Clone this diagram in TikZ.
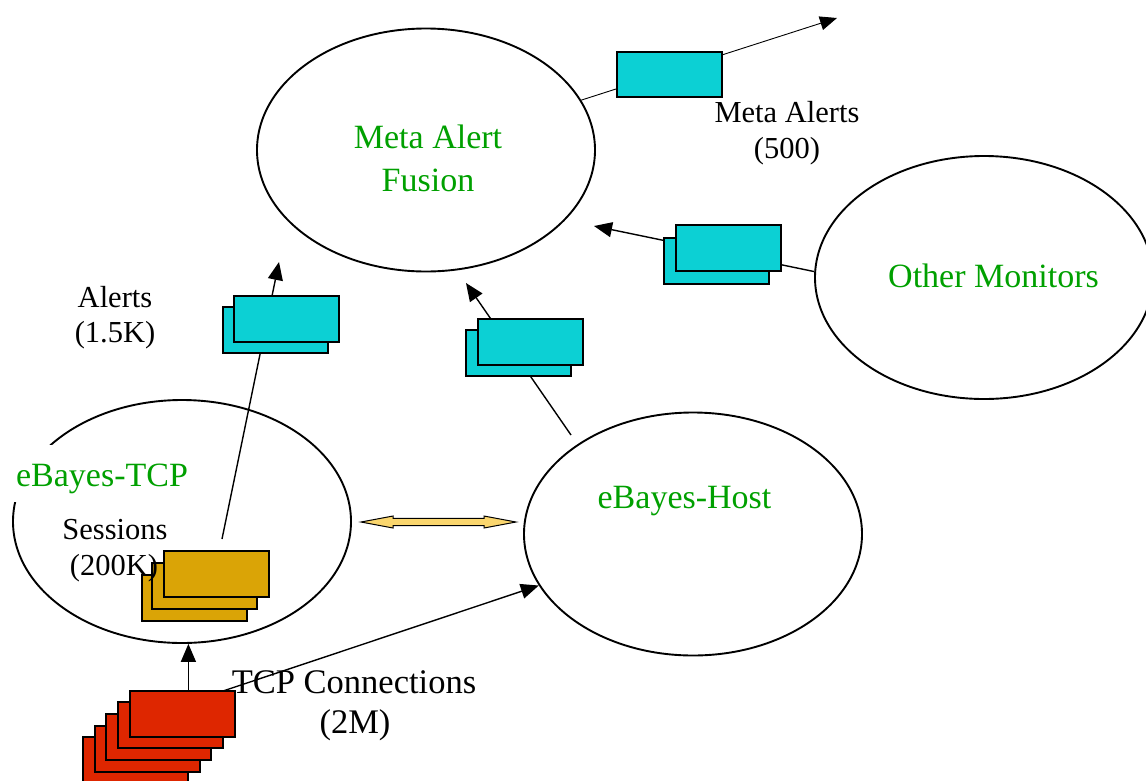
\documentclass[tikz,border=0pt]{standalone}
\usepackage{fontspec}
\setmainfont{Liberation Serif}
\usetikzlibrary{shapes.geometric,arrows.meta,calc}
\definecolor{pktcyan}{RGB}{12,208,212}
\definecolor{pktgold}{RGB}{218,164,6}
\definecolor{pktred}{RGB}{222,38,0}
\definecolor{labgreen}{RGB}{0,160,0}
\definecolor{linkyellow}{RGB}{250,214,110}
\begin{document}
\begin{tikzpicture}[x=1pt,y=-1pt,
  ell/.style={draw, ellipse, line width=1.9pt, minimum width=338pt, minimum height=243pt, inner sep=0pt},
  pkt/.style={draw, line width=2pt, minimum width=105pt, minimum height=46pt, inner sep=0pt},
  cyanpkt/.style={pkt, fill=pktcyan},
  goldpkt/.style={pkt, fill=pktgold},
  redpkt/.style={pkt, fill=pktred},
  conn/.style={line width=1.4pt, -{Triangle[length=18pt,width=15pt]}},
  thinconn/.style={line width=0.9pt, -{Triangle[length=17pt,width=14pt]}},
  linkstyle/.style={draw, line width=1pt, fill=linkyellow, line join=miter},
  glbl/.style={font=\fontsize{34}{41}\selectfont, text=labgreen, anchor=base, inner sep=0pt},
  blbl/.style={font=\fontsize{30.5}{36}\selectfont, anchor=base, inner sep=0pt},
  tlbl/.style={font=\fontsize{34.5}{40}\selectfont, anchor=base, inner sep=0pt}
]
\useasboundingbox (0,0) rectangle (1146,780);

% ellipses
\node[ell] (maf) at (426,150) {};
\node[ell] (om) at (984,277.5) {};
\node[ell] (tcp) at (182,521.5) {};
\node[ell] (host) at (693,534) {};

% free connector ends
\coordinate (maTip) at (837,18);
\coordinate (omTip) at (594,226);
\coordinate (alStart) at (222,539);
\coordinate (alTip) at (279,262);
\coordinate (hoStart) at (571,435);
\coordinate (hoTip) at (466,283);
\coordinate (rcStart) at (223,691);
\coordinate (la) at (361,522);
\coordinate (lb) at (516,522);

% connectors behind the packets
\draw[thinconn] (maf) -- (maTip);
\draw[conn] (om.178) -- (omTip);
\draw[conn] (alStart) -- (alTip);
\draw[conn] (hoStart) -- (hoTip);

% double arrow between eBayes-TCP and eBayes-Host
\draw[linkstyle] (la) -- ($(la)+(32,-6)$) -- ($(la)+(32,-3.7)$) -- ($(lb)+(-32,-3.7)$)
  -- ($(lb)+(-32,-6)$) -- (lb) -- ($(lb)+(-32,6)$) -- ($(lb)+(-32,3.7)$)
  -- ($(la)+(32,3.7)$) -- ($(la)+(32,6)$) -- cycle;

% packets
\node[cyanpkt, minimum height=45pt] (mout) at (669.5,74.5) {};
\node[cyanpkt] (omb) at (716.5,260.5) {};
\node[cyanpkt] (omf) at (728,248) {};
\node[cyanpkt] (alb) at (275,330) {};
\node[cyanpkt] (alf) at (286.5,318.5) {};
\node[cyanpkt] (hob) at (518.5,353) {};
\node[cyanpkt] (hof) at (530.5,341.5) {};
\node[goldpkt] (g3) at (194,597.5) {};
\node[goldpkt] (g2) at (204.5,586) {};
\node[goldpkt] (g1) at (216.5,574) {};
\node[redpkt] (r5) at (135,759.5) {};
\node[redpkt] (r4) at (147,748.5) {};
\node[redpkt] (r3) at (158.5,736.5) {};
\node[redpkt] (r2) at (170,725) {};
\node[redpkt] (r1) at (182,713.5) {};

% connectors from TCP connections
\draw[conn] (r1.north -| tcp.273) -- (tcp.273);
\draw[conn] (rcStart) -- (host);

% labels
\node[glbl] (mafa) at (428,148) {Meta Alert};
\node[glbl] (mafb) at (428,191) {Fusion};
\node[glbl] (omt) at (993.5,287) {Other Monitors};
\node[glbl] (hostt) at (684.5,508) {eBayes-Host};
\node[glbl, fill=white, text height=33pt, text depth=8pt, inner ysep=8pt, inner xsep=6pt] (tcpt) at (102,486) {eBayes-TCP};

\node[blbl] (ma1) at (787,122) {Meta Alerts};
\node[blbl] (ma2) at (787,158) {(500)};
\node[blbl] (al1) at (115,307) {Alerts};
\node[blbl] (al2) at (115,342) {(1.5K)};
\node[blbl] (se1) at (115,539) {Sessions};
\node[blbl] (se2) at (114,575) {(200K)};
\node[tlbl] (tc1) at (354,693) {TCP Connections};
\node[tlbl] (tc2) at (355,733) {(2M)};
\end{tikzpicture}
\end{document}
